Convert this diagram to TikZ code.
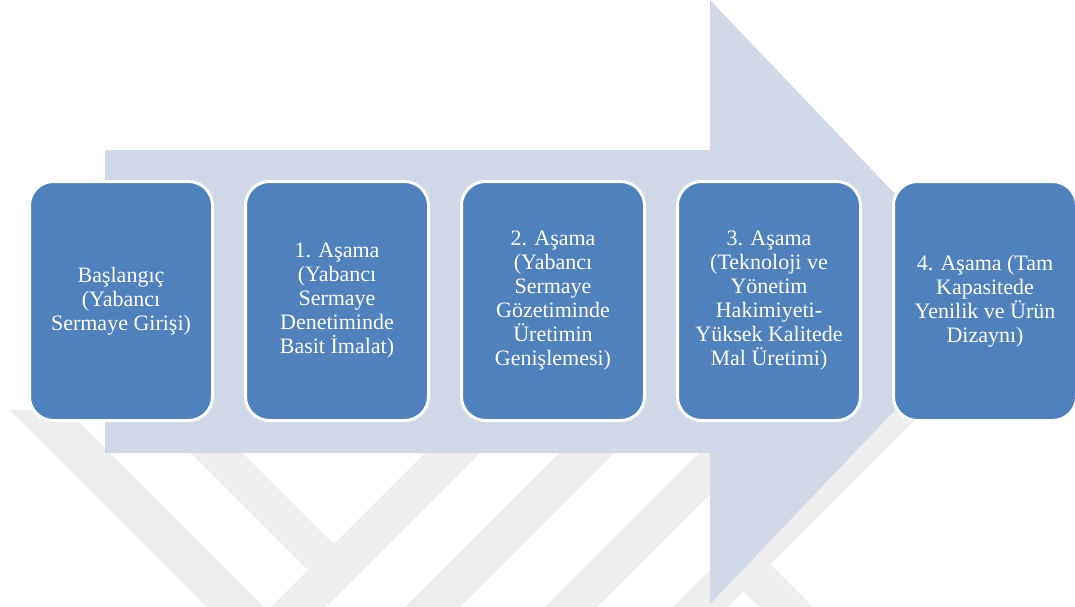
\documentclass[tikz,border=0pt]{standalone}
\usepackage{fontspec}
\setmainfont{Liberation Serif}
\definecolor{stageblue}{HTML}{4F81BD}
\definecolor{flowgray}{HTML}{D1D8E7}
\definecolor{markgray}{HTML}{EEEEEE}
\begin{document}
\begin{tikzpicture}[x=1pt,y=-1pt,
  stagebox/.style={draw=white, line width=3pt, fill=stageblue,
    rounded corners=24pt, minimum width=183pt, minimum height=239pt,
    inner sep=0pt, align=center, text=white,
    font=\fontsize{22}{24}\selectfont},
  wmark/.style={fill=markgray}]
\useasboundingbox (0,0) rectangle (1075,607);
\clip (0,0) rectangle (1075,607);

% faint background emblem stripes
\fill[wmark] (10,410) -- (67,410) -- (264,607) -- (207,607) -- cycle;
\fill[wmark] (178,440) -- (230,440) -- (334,544) -- (308,570) -- cycle;
\fill[wmark] (438,440) -- (493,440) -- (326,607) -- (271,607) -- cycle;
\fill[wmark] (572,440) -- (627,440) -- (460,607) -- (405,607) -- cycle;
\fill[wmark] (712,440) -- (764,440) -- (597,607) -- (545,607) -- cycle;
\fill[wmark] (880,400) -- (935,400) -- (728,607) -- (673,607) -- cycle;
\fill[wmark] (743.5,591.5) -- (770.5,564.5) -- (813,607) -- (759,607) -- cycle;

% large flow arrow behind the stages
\fill[flowgray] (105,150) -- (710,150) -- (710,0) -- (998,302)
  -- (710,604) -- (710,453) -- (105,453) -- cycle;

% stages
\node[stagebox] (s0) at (121,301) {Başlangıç\\(Yabancı\\Sermaye Girişi)};
\node[stagebox] (s1) at (337,301) {1. Aşama\\(Yabancı\\Sermaye\\Denetiminde\\Basit İmalat)};
\node[stagebox] (s2) at (553,301) {2. Aşama\\(Yabancı\\Sermaye\\Gözetiminde\\Üretimin\\Genişlemesi)};
\node[stagebox] (s3) at (769,301) {3. Aşama\\(Teknoloji ve\\Yönetim\\Hakimiyeti-\\Yüksek Kalitede\\Mal Üretimi)};
\node[stagebox] (s4) at (985,301) {4. Aşama (Tam\\Kapasitede\\Yenilik ve Ürün\\Dizaynı)};
\end{tikzpicture}
\end{document}
